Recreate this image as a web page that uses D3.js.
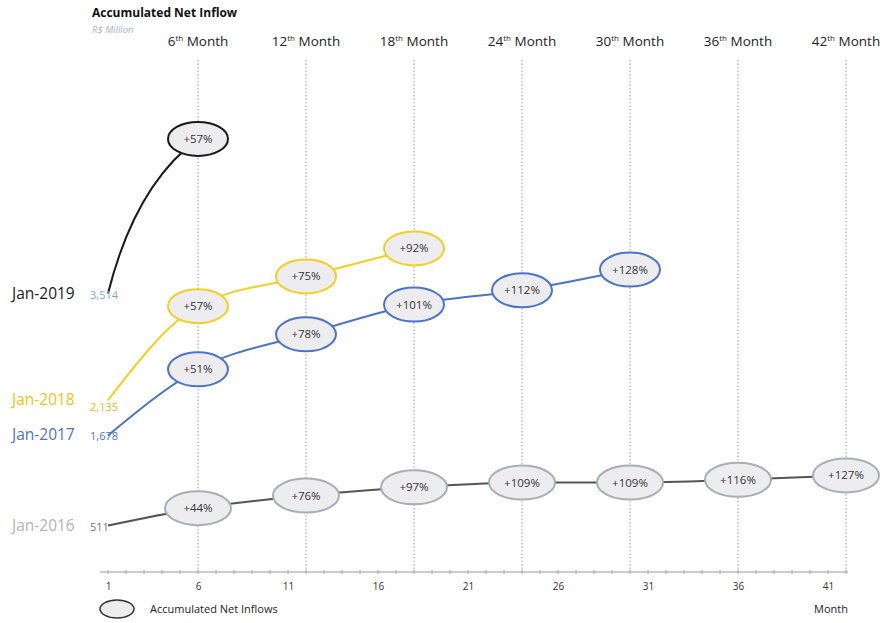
<!DOCTYPE html>
<html>
<head>
<meta charset="utf-8">
<script src="https://cdn.jsdelivr.net/npm/d3@7"></script>
<style>
  body { margin: 0; background: #fff; }
  svg { display: block; font-family: "Open Sans", sans-serif; }
</style>
</head>
<body>
<div class="js-chart"></div>
<script>
// cohorts, start values (R$ million) and growth labels
var cohorts = ["Jan-2016", "Jan-2017", "Jan-2018", "Jan-2019"];
var startValues = [511, 1678, 2135, 3514];
var checkMonths = [6, 12, 18, 24, 30, 36, 42];
var growth2016 = [44, 76, 97, 109, 109, 116, 127];
var growth2017 = [51, 78, 101, 112, 128];
var growth2018 = [57, 75, 92];
var growth2019 = [57];
var headerLabels = ["6", "12", "18", "24", "30", "36", "42"];
var axisTicks = [1, 6, 11, 16, 21, 26, 31, 36, 41];

(function(d3) {
	var w = 884, h = 623,
		svg = d3.select('.js-chart').append('svg').attr('width', w).attr('height', h);

	var x = d3.scaleLinear().domain([1, 42]).range([108, 846]),
		y = d3.scaleLinear().domain([0, 6500]).range([565, 63]),
		axisY = 572;

	// one-segment curve that starts steep and bends into the bubble
	function curveRise(context) {
		var pts = [];
		return {
			lineStart: function() { pts = []; },
			point: function(px, py) { pts.push([px, py]); },
			lineEnd: function() {
				var a = pts[0], b = pts[pts.length - 1];
				context.moveTo(a[0], a[1]);
				context.quadraticCurveTo(a[0] + 0.3 * (b[0] - a[0]), a[1] + 0.7 * (b[1] - a[1]), b[0], b[1]);
			},
			areaStart: function() {}, areaEnd: function() {}
		};
	}

	var styles = [
		{ line: '#555', stroke: '#a9adb5', label: '#b5b5b5', value: '#777', rx: 33 },
		{ line: '#4a73cc', stroke: '#4a73cc', label: '#4a73cc', value: '#4a73cc', rx: 30 },
		{ line: '#f2cf22', stroke: '#f2cf22', label: '#f0c419', value: '#e8b90f', rx: 30 },
		{ line: '#1a1a1a', stroke: '#1a1a1a', label: '#1a1a1a', value: '#7fa6d8', rx: 30 }
	];
	var growths = [growth2016, growth2017, growth2018, growth2019];

	var series = cohorts.map(function(c, i) {
		var pts = [{ m: 1, v: startValues[i], g: null }];
		growths[i].forEach(function(g, j) {
			pts.push({ m: checkMonths[j], v: startValues[i] * (1 + g / 100), g: g });
		});
		return { name: c, start: startValues[i], pts: pts, style: styles[i], idx: i };
	});

	// vertical dotted guides + month headers
	svg.selectAll('line.guide').data(checkMonths).enter().append('line')
		.attr('class', 'guide')
		.attr('x1', function(d) { return x(d); }).attr('x2', function(d) { return x(d); })
		.attr('y1', 60).attr('y2', axisY)
		.attr('stroke', '#9a9a9a').attr('stroke-width', 1).attr('stroke-dasharray', '1.5,2');

	var head = svg.selectAll('text.head').data(headerLabels).enter().append('text')
		.attr('class', 'head')
		.attr('x', function(d, i) { return x(checkMonths[i]); })
		.attr('y', 46).attr('text-anchor', 'middle')
		.attr('font-size', 13.5).attr('fill', '#222');
	head.append('tspan').text(function(d) { return d; });
	head.append('tspan').text('th').attr('font-size', 8).attr('dy', -5);
	head.append('tspan').text(' Month').attr('dy', 5);

	// title
	svg.append('text').attr('x', 92).attr('y', 17).attr('font-size', 12)
		.attr('font-weight', 'bold').attr('fill', '#111').text('Accumulated Net Inflow');
	svg.append('text').attr('x', 92).attr('y', 33).attr('font-size', 9.5)
		.attr('font-style', 'italic').attr('fill', '#a7b0c4').text('R$ Million');

	// x axis
	var axis = d3.axisBottom(x).tickValues(axisTicks).tickSize(0).tickPadding(11)
		.tickFormat(d3.format('d'));
	var ax = svg.append('g').attr('transform', 'translate(0,' + axisY + ')').call(axis);
	ax.select('.domain').attr('stroke', '#999').attr('d', 'M100,0H848');
	ax.selectAll('text').attr('font-size', 10).attr('fill', '#333').attr('font-family', '"Open Sans", sans-serif');
	ax.selectAll('line.minor').data(d3.range(1, 43)).enter().append('line')
		.attr('class', 'minor')
		.attr('x1', function(d) { return x(d); }).attr('x2', function(d) { return x(d); })
		.attr('y1', -2).attr('y2', 2).attr('stroke', '#aaa');

	// lines
	var line = d3.line().x(function(d) { return x(d.m); }).y(function(d) { return y(d.v); });
	svg.selectAll('path.series').data(series).enter().append('path')
		.attr('class', 'series')
		.attr('d', function(d) {
			return line.curve(d.pts.length > 2 ? d3.curveMonotoneX : curveRise)(d.pts);
		})
		.attr('fill', 'none')
		.attr('stroke', function(d) { return d.style.line; })
		.attr('stroke-width', 2);

	// ellipses with growth labels
	series.forEach(function(s) {
		var g = svg.append('g');
		var nodes = g.selectAll('g').data(s.pts.slice(1)).enter().append('g')
			.attr('transform', function(d) { return 'translate(' + x(d.m) + ',' + y(d.v) + ')'; });
		nodes.append('ellipse')
			.attr('rx', s.style.rx).attr('ry', 17)
			.attr('fill', '#ededf0')
			.attr('stroke', s.style.stroke).attr('stroke-width', 2);
		nodes.append('text')
			.attr('text-anchor', 'middle').attr('dy', '0.35em')
			.attr('font-size', 11.5).attr('fill', '#333')
			.text(function(d) { return '+' + d.g + '%'; });
	});

	// cohort labels and start values
	svg.selectAll('text.cohort').data(series).enter().append('text')
		.attr('class', 'cohort')
		.attr('x', 12).attr('y', function(d) { return y(d.start) + 5; })
		.attr('font-size', 15.5).attr('fill', function(d) { return d.style.label; })
		.text(function(d) { return d.name; });
	svg.selectAll('text.start').data(series).enter().append('text')
		.attr('class', 'start')
		.attr('x', 90).attr('y', function(d) { return y(d.start) + (d.idx === 2 ? 11 : 5); })
		.attr('font-size', 11).attr('fill', function(d) { return d.style.value; })
		.text(function(d) { return d3.format(',')(d.start); });

	// legend
	svg.append('ellipse').attr('cx', 117).attr('cy', 609).attr('rx', 17).attr('ry', 9)
		.attr('fill', '#ededf0').attr('stroke', '#333').attr('stroke-width', 1.5);
	svg.append('text').attr('x', 150).attr('y', 613).attr('font-size', 11).attr('fill', '#222')
		.text('Accumulated Net Inflows');
	svg.append('text').attr('x', 848).attr('y', 613).attr('font-size', 11).attr('fill', '#222')
		.attr('text-anchor', 'end').text('Month');
})(d3);
</script>
</body>
</html>
